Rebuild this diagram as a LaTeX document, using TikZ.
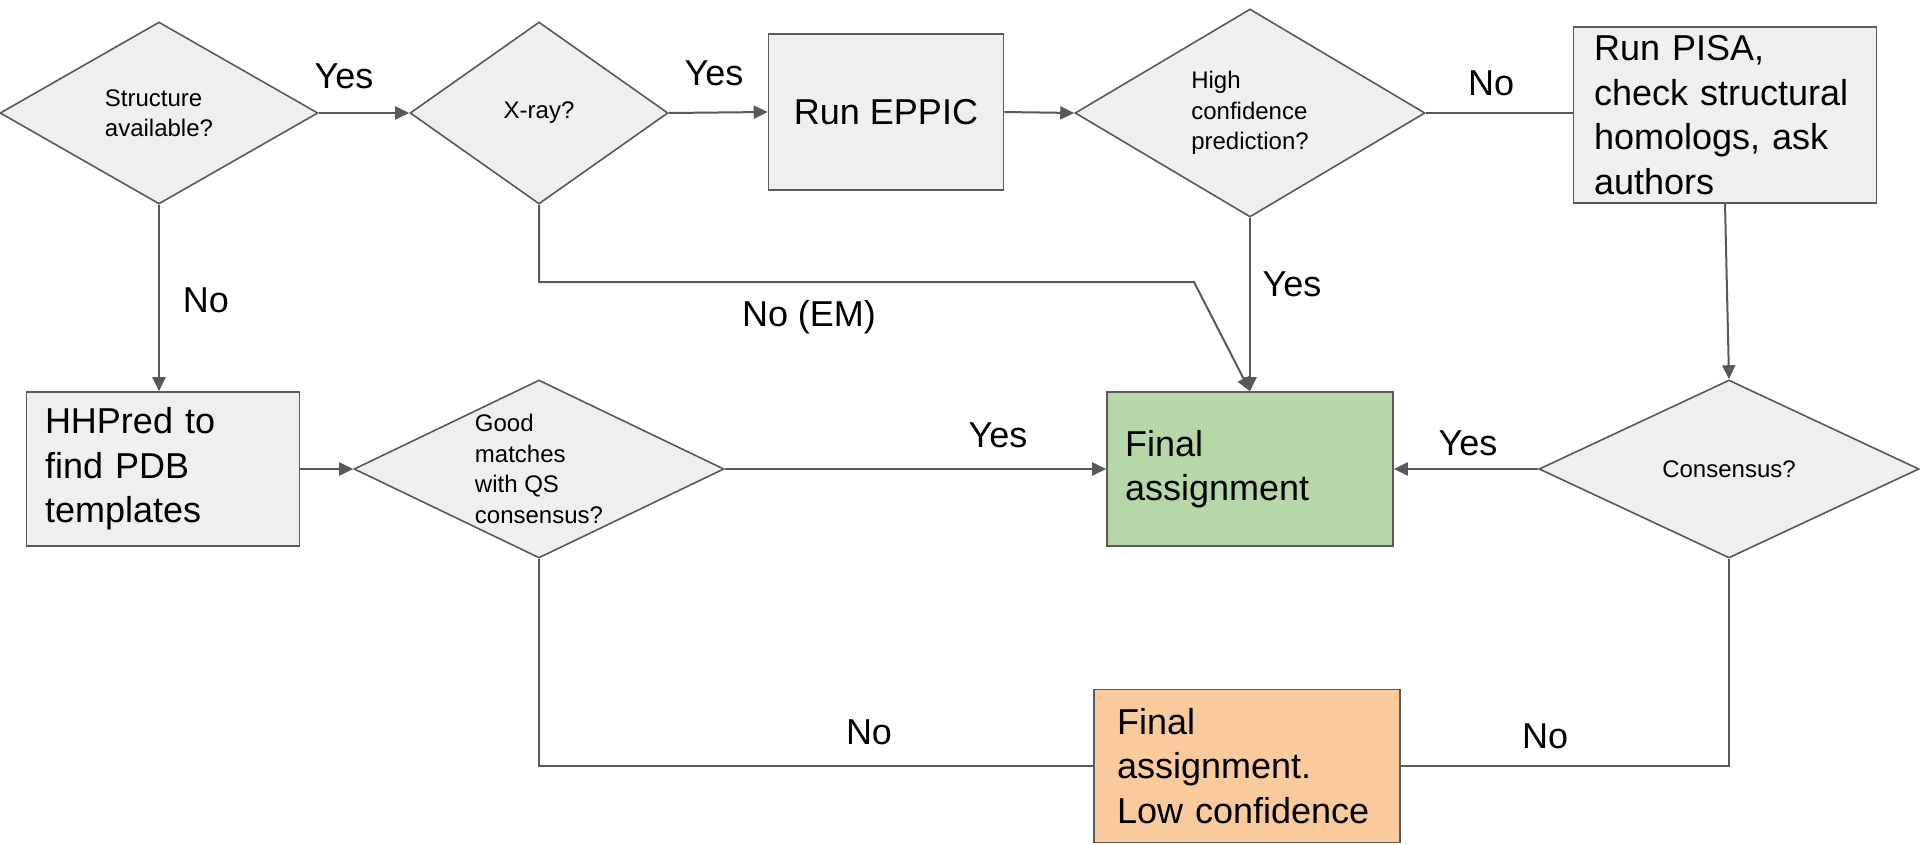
\documentclass[tikz,border=0pt]{standalone}
\usepackage{fontspec}
\setmainfont{Liberation Sans}
\usetikzlibrary{arrows.meta,shapes.geometric}
\definecolor{greyfill}{RGB}{239,239,239}
\definecolor{greyline}{RGB}{89,89,89}
\definecolor{greengood}{RGB}{182,215,168}
\definecolor{orangegood}{RGB}{249,203,156}

\begin{document}
\begin{tikzpicture}[x=0.5pt,y=-0.5pt,
  decision/.style={shape=diamond,aspect=2,draw=greyline,fill=greyfill,line width=0.8pt,
    inner sep=0pt,align=left,font=\fontsize{12}{15.2}\selectfont},
  process/.style={shape=rectangle,draw=greyline,fill=greyfill,line width=0.8pt,
    inner sep=0pt,align=left,font=\fontsize{18}{22.3}\selectfont},
  lbl/.style={font=\fontsize{18}{22.3}\selectfont},
  link/.style={draw=greyline,line width=1pt},
  arr/.style={link,-{Triangle[length=7pt,width=6.5pt]}}]
  \useasboundingbox (0,0) rectangle (1920,845);
  % top row
  \node[decision,minimum width=159pt,minimum height=91pt] (struct) at (159,113){Structure\\available?};
  \node[decision,minimum width=129pt,minimum height=91pt] (xray) at (539,113){X-ray?};
  \node[process,minimum width=117.5pt,minimum height=78pt,align=center] (eppic) at (886,112){Run EPPIC};
  \node[decision,minimum width=175pt,minimum height=104pt] (conf) at (1250,113){High\\confidence\\prediction?};
  \node[process,minimum width=151.5pt,minimum height=88pt,text width=131pt] (pisa) at (1725,115){Run PISA,\\check structural\\homologs, ask\\authors};
  % middle row
  \node[process,minimum width=136.5pt,minimum height=77pt,text width=118pt] (hhpred) at (163,469){HHPred to\\find PDB\\templates};
  \node[decision,minimum width=185pt,minimum height=89pt] (goodmatch) at (539,469){Good\\matches\\with QS\\consensus?};
  \node[process,fill=greengood,minimum width=143pt,minimum height=77pt,text width=125pt] (final) at (1250,469){Final\\assignment};
  \node[decision,minimum width=190pt,minimum height=89pt] (consensus) at (1729,469){Consensus?};
  % bottom
  \node[process,fill=orangegood,minimum width=153pt,minimum height=76.5pt,text width=130pt] (lowconf) at (1247,766){Final\\assignment.\\Low confidence};
  \coordinate (emturn) at (1194,282);

  \draw[arr] (struct.east) -- (xray.west);
  \draw[arr] (xray.east) -- (eppic.west);
  \draw[arr] (eppic.east) -- (conf.west);
  \draw[link] (conf.east) -- (conf.east -| pisa.west);
  \draw[arr] (pisa.south) -- (consensus.north);
  \draw[arr] (consensus.west) -- (final.east);
  \draw[arr] (conf.south) -- (final.north);
  \draw[arr] (xray.south) |- (emturn) -- (final.north);
  \draw[arr] (struct.south) -- (struct.south |- hhpred.north);
  \draw[arr] (hhpred.east) -- (goodmatch.west);
  \draw[arr] (goodmatch.east) -- (final.west);
  \draw[link] (goodmatch.south) |- (lowconf.west);
  \draw[link] (consensus.south) |- (lowconf.east);

  % labels
  \node[lbl] (yes1) at (344,76){Yes};
  \node[lbl] (yes2) at (714,73){Yes};
  \node[lbl] (no1) at (1491,83){No};
  \node[lbl] (yes3) at (1292,284){Yes};
  \node[lbl] (noem) at (809,317){No (EM)};
  \node[lbl] (no2) at (206,300){No};
  \node[lbl] (yes4) at (998,435){Yes};
  \node[lbl] (yes5) at (1468,443){Yes};
  \node[lbl] (no3) at (869,732){No};
  \node[lbl] (no4) at (1545,736){No};
\end{tikzpicture}
\end{document}
